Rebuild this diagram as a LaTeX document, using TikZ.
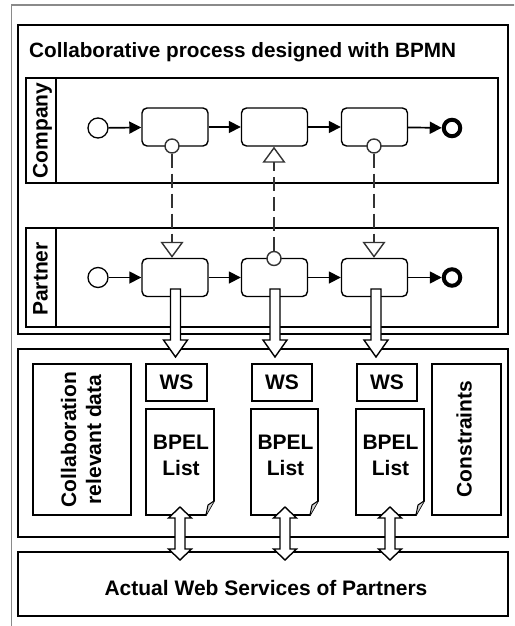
\documentclass[tikz,border=0pt]{standalone}
\usepackage{fontspec}
\usepackage{graphicx}
\setmainfont{Liberation Sans}
\usetikzlibrary{arrows.meta}
\definecolor{darkg}{HTML}{333333}
\definecolor{frameg}{HTML}{8A8A8A}
\newcommand{\blkdown}[4]{%
  \draw[blk] ({#1-5},#2) -- ({#1+5},#2) -- ({#1+5},{#3-17}) -- ({#1+12},{#3-17})
    -- (#1,#3) -- ({#1-12},{#3-17}) -- ({#1-5},{#3-17}) -- cycle;
  \coordinate (#4) at (#1,#3);}
\newcommand{\blkboth}[4]{%
  \draw[blk] (#1,#2) -- ({#1+11.5},{#2+11}) -- ({#1+5},{#2+11}) -- ({#1+5},{#3-11})
    -- ({#1+11.5},{#3-11}) -- (#1,#3) -- ({#1-11.5},{#3-11}) -- ({#1-5},{#3-11})
    -- ({#1-5},{#2+11}) -- ({#1-11.5},{#2+11}) -- cycle;
  \coordinate (#4) at (#1,#2);}
\newcommand{\docshape}[5]{%
  \draw[box] (#1,#2) -- (#3,#2) -- (#3,{#4-14}) -- ({#3-8},#4) -- (#1,#4) -- cycle;
  \draw[line width=1pt, fill=gray!35] (#3,{#4-14}) -- ({#3-6},{#4-10}) -- ({#3-8},#4);
  \coordinate (#5) at ({(#1+#3)/2},{(#2+#4)/2});}
\begin{document}
\begin{tikzpicture}[x=1pt,y=-1pt,
  box/.style={draw, line width=1.6pt, fill=white},
  bnode/.style={draw, line width=1.6pt, fill=white, inner sep=0pt},
  lbl/.style={font=\fontsize{21}{25}\selectfont\bfseries, inner sep=0pt, align=center},
  task/.style={draw, rounded corners=5pt, minimum width=66pt, minimum height=38pt, line width=1.4pt, inner sep=0pt, fill=white},
  startev/.style={circle, draw, minimum size=20pt, inner sep=0pt, line width=1.3pt, fill=white},
  endev/.style={circle, draw, minimum size=16.5pt, inner sep=0pt, line width=4pt, fill=white},
  seq/.style={line width=1.7pt, -{Triangle[length=12pt,width=12pt]}},
  msg/.style={draw=darkg, line width=2.5pt, dash pattern=on 14pt off 6pt, -{Triangle[open, length=16pt, width=23pt, line width=1.4pt]}},
  msgcirc/.style={circle, draw=darkg, fill=white, minimum size=14pt, inner sep=0pt, line width=1.4pt},
  blk/.style={draw, line width=1.4pt, fill=white, line join=miter}
]
\useasboundingbox (0,0) rectangle (514,626);
\clip (0,0) rectangle (514,626);
% outer frame
\draw[frameg, line width=1.8pt] (11.5,700) -- (11.5,5) -- (600,5);
% BPMN container
\draw[box] (18,25) rectangle (508,334);
\node[lbl, anchor=base west] (title) at (29,58) {\resizebox{427pt}{!}{Collaborative process designed with BPMN}};
% Company pool
\draw[box] (26,78) rectangle (498,183);
\draw[line width=1.6pt] (56,78) -- (56,183);
\node[lbl, rotate=90, anchor=base] (company) at (47.5,130.5) {Company};
% Partner pool
\draw[box] (26,228) rectangle (498,327);
\draw[line width=1.6pt] (56,228) -- (56,327);
\node[lbl, rotate=90, anchor=base] (partner) at (47.5,279) {Partner};
% Company flow
\node[startev] (cs) at (98,128) {};
\node[task] (ct1) at (175,127) {};
\node[task] (ct2) at (274.5,127) {};
\node[task] (ct3) at (374.5,127) {};
\node[endev] (ce) at (452,128) {};
\draw[seq] (cs) -- (ct1);
\draw[seq] (ct1) -- (ct2);
\draw[seq] (ct2) -- (ct3);
\draw[seq] (ct3) -- (ce);
% Partner flow
\node[startev] (ps) at (98,277.5) {};
\node[task] (pt1) at (175,277.5) {};
\node[task] (pt2) at (274.5,277.5) {};
\node[task] (pt3) at (374.5,277.5) {};
\node[endev] (pe) at (452,277.5) {};
\draw[seq] (ps) -- (pt1);
\draw[seq] (pt1) -- (pt2);
\draw[seq] (pt2) -- (pt3);
\draw[seq] (pt3) -- (pe);
% message flows
\node[msgcirc] (mc1) at (172,146) {};
\node[msgcirc] (mc2) at (274,258.5) {};
\node[msgcirc] (mc3) at (374,146) {};
\draw[msg] (mc1) -- (pt1.north -| mc1);
\draw[msg] (mc2) -- (ct2.south -| mc2);
\draw[msg] (mc3) -- (pt3.north -| mc3);
% lower container
\draw[box] (18,349) rectangle (508,537);
\node[bnode, minimum width=98pt, minimum height=151pt] (crd) at (82,439.5) {};
\node[lbl, rotate=90] (crdt) at (81,439.5) {Collaboration\\relevant data};
\node[bnode, minimum width=69pt, minimum height=151pt] (cons) at (466.5,439.5) {};
\node[lbl, rotate=90, anchor=base] (const) at (471.5,439) {Constraints};
\node[bnode, minimum width=61pt, minimum height=37pt, lbl, draw, line width=1.6pt] (ws1) at (176.5,382.5) {WS};
\node[bnode, minimum width=60pt, minimum height=37pt, lbl, draw, line width=1.6pt] (ws2) at (282,382.5) {WS};
\node[bnode, minimum width=60pt, minimum height=37pt, lbl, draw, line width=1.6pt] (ws3) at (387,382.5) {WS};
\docshape{146}{409}{214}{515}{d1}
\docshape{251}{409}{318}{515}{d2}
\docshape{356}{409}{424}{515}{d3}
\node[lbl, font=\fontsize{21}{26}\selectfont\bfseries] (b1) at (181,455.5) {BPEL\\List};
\node[lbl, font=\fontsize{21}{26}\selectfont\bfseries] (b2) at (285.5,455.5) {BPEL\\List};
\node[lbl, font=\fontsize{21}{26}\selectfont\bfseries] (b3) at (390.5,455.5) {BPEL\\List};
% actual web services
\node[bnode, minimum width=490pt, minimum height=64pt] (aws) at (263,584) {};
\node[lbl, anchor=base] (awst) at (266,595) {Actual Web Services of Partners};
% block arrows
\blkdown{175.5}{289}{357}{a1}
\blkdown{275}{289}{357}{a2}
\blkdown{376}{289}{357}{a3}
\blkboth{180}{507}{560}{x1}
\blkboth{285}{507}{560}{x2}
\blkboth{390}{507}{560}{x3}
\end{tikzpicture}
\end{document}
